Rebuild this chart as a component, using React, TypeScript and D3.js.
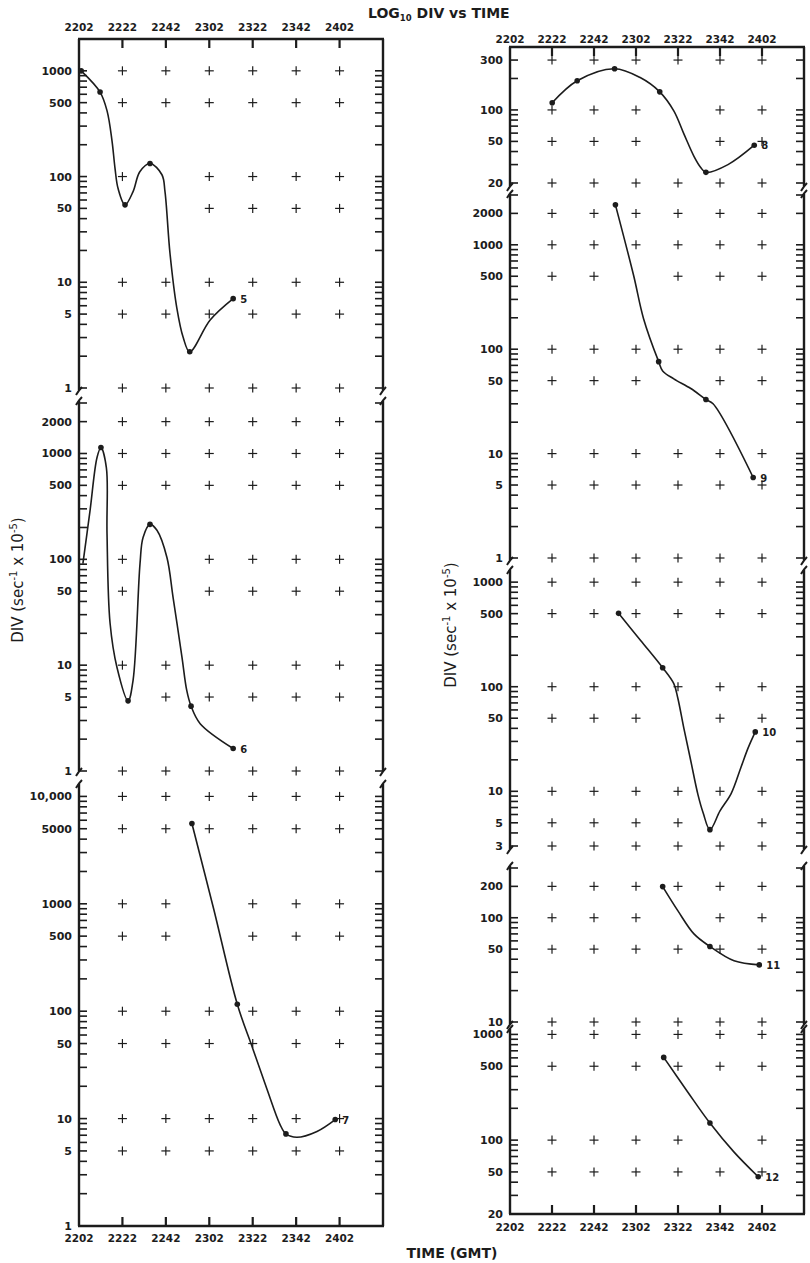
import React from "react";
import * as d3 from "d3";

type P = [number, number];

// time axis (minutes after 2202 GMT)
const timeTicks = [0, 20, 40, 60, 80, 100, 120];
const timeLabels = ["2202", "2222", "2242", "2302", "2322", "2342", "2402"];
const crossTimes = [20, 40, 60, 80, 100, 120];

// ---- panel 5 ----
const p5Ticks = [1000, 500, 100, 50, 10, 5, 1];
const p5Rows = [1000, 500, 100, 50, 10, 5, 1];
const p5Missing: P[] = [[40, 100], [20, 50], [40, 50]];
const p5Trace: P[] = [[1, 1000], [9.7, 630], [12.9, 420], [15.2, 218], [16.6, 119], [18, 77], [21.2, 54], [24.9, 72], [28, 111], [32.7, 133], [38.2, 104], [39.6, 72], [41.9, 18.8], [45, 5.8], [48, 3.0], [51, 2.2], [60.4, 4.4], [71, 7]];
const p5Dots: P[] = [[1, 1000], [9.7, 630], [21.2, 54], [32.7, 133], [51, 2.2], [71, 7]];

// ---- panel 6 ----
const p6Ticks = [2000, 1000, 500, 100, 50, 10, 5, 1];
const p6Rows = [2000, 1000, 500, 100, 50, 10, 5, 1];
const p6Missing: P[] = [[40, 100], [40, 50], [20, 5]];
const p6Trace: P[] = [[1.8, 91], [5.1, 290], [8.3, 917], [10.1, 1140], [12.6, 737], [12.9, 176], [14.3, 25], [17.5, 9.5], [22.6, 4.6], [24.9, 7.2], [28.1, 91], [29.5, 161], [32.7, 214], [35.9, 188], [40.5, 104], [43.3, 44], [47.4, 12], [49.6, 5.8], [51.6, 4.1], [55.8, 2.8], [71, 1.63]];
const p6Dots: P[] = [[10.1, 1140], [22.6, 4.6], [32.7, 214], [51.6, 4.1], [71, 1.63]];

// ---- panel 7 ----
const p7Ticks = [10000, 5000, 1000, 500, 100, 50, 10, 5, 1];
const p7Rows = [10000, 5000, 1000, 500, 100, 50, 10, 5];
const p7Missing: P[] = [[60, 1000], [60, 500]];
const p7Trace: P[] = [[52, 5600], [62, 900], [72.9, 116], [80, 45], [86.5, 19], [92.6, 8.8], [95.3, 7.2], [100.3, 6.7], [109.6, 7.6], [118, 9.8]];
const p7Dots: P[] = [[52, 5600], [72.9, 116], [95.3, 7.2], [118, 9.8]];

// ---- panel 8 ----
const p8Ticks = [300, 100, 50, 20];
const p8Rows = [300, 100, 50, 20];
const p8Missing: P[] = [[80, 100], [80, 50]];
const p8Trace: P[] = [[20.1, 117], [32, 190], [49.8, 248], [62.2, 203], [71.3, 149], [78, 98], [82.8, 59], [87.6, 36], [90.9, 28], [93.3, 25.3], [103.8, 30], [116.3, 46]];
const p8Dots: P[] = [[20.1, 117], [32, 190], [49.8, 248], [71.3, 149], [93.3, 25.3], [116.3, 46]];

// ---- panel 9 ----
const p9Ticks = [2000, 1000, 500, 100, 50, 10, 5, 1];
const p9Rows = [2000, 1000, 500, 100, 50, 10, 5, 1];
const p9Missing: P[] = [[60, 500], [80, 50]];
const p9Trace: P[] = [[50.2, 2415], [58.9, 505], [63.6, 196], [70.8, 76], [72.7, 62], [78, 52], [86.1, 42], [93.3, 33], [96.7, 30], [115.8, 5.9]];
const p9Dots: P[] = [[50.2, 2415], [70.8, 76], [93.3, 33], [115.8, 5.9]];

// ---- panel 10 ----
const p10Ticks = [1000, 500, 100, 50, 10, 5, 3];
const p10Rows = [1000, 500, 100, 50, 10, 5, 3];
const p10Missing: P[] = [[80, 50], [100, 5]];
const p10Trace: P[] = [[51.7, 503], [62.2, 277], [72.7, 152], [78, 107], [79.9, 78], [82.8, 40], [86.1, 19.5], [89.5, 9.3], [92, 6.2], [95.2, 4.3], [100, 6.5], [105.3, 9.5], [110, 17], [113.4, 26], [116.8, 37]];
const p10Dots: P[] = [[51.7, 503], [72.7, 152], [95.2, 4.3], [116.8, 37]];

// ---- panel 11 ----
const p11Ticks = [200, 100, 50, 10];
const p11Rows = [200, 100, 50, 10];
const p11Missing: P[] = [[80, 100]];
const p11Trace: P[] = [[72.7, 199], [79.9, 117], [87.6, 70], [95.2, 53], [106.7, 38.6], [118.7, 35.3]];
const p11Dots: P[] = [[72.7, 199], [95.2, 53], [118.7, 35.3]];

// ---- panel 12 ----
const p12Ticks = [1000, 500, 100, 50, 20];
const p12Rows = [1000, 500, 100, 50];
const p12Missing: P[] = [[100, 100]];
const p12Trace: P[] = [[73.2, 606], [84.7, 284], [95.2, 145], [106.7, 77], [118.2, 45]];
const p12Dots: P[] = [[73.2, 606], [95.2, 145], [118.2, 45]];

// ---------------- layout ----------------
const LEFT = { x0: 79, x1: 383, top: 39, bottom: 1226, topLab: 31, botLab: 1242 };
const RIGHT = { x0: 510, x1: 804, top: 47, bottom: 1214, topLab: 43, botLab: 1231 };

const panels = [
  { name: "5", col: LEFT, dom: [1, 2000], rng: [388, 39], seg: [39, 390], ticks: p5Ticks, rows: p5Rows, missing: p5Missing, trace: p5Trace, dots: p5Dots, first: true, lastP: false },
  { name: "6", col: LEFT, dom: [1, 3000], rng: [771, 403], seg: [401, 771], ticks: p6Ticks, rows: p6Rows, missing: p6Missing, trace: p6Trace, dots: p6Dots, first: false, lastP: false },
  { name: "7", col: LEFT, dom: [1, 12500], rng: [1226, 786], seg: [784, 1226], ticks: p7Ticks, rows: p7Rows, missing: p7Missing, trace: p7Trace, dots: p7Dots, first: false, lastP: true },
  { name: "8", col: RIGHT, dom: [20, 400], rng: [183, 47], seg: [47, 186], ticks: p8Ticks, rows: p8Rows, missing: p8Missing, trace: p8Trace, dots: p8Dots, first: true, lastP: false },
  { name: "9", col: RIGHT, dom: [1, 3000], rng: [558, 195], seg: [194, 560], ticks: p9Ticks, rows: p9Rows, missing: p9Missing, trace: p9Trace, dots: p9Dots, first: false, lastP: false },
  { name: "10", col: RIGHT, dom: [3, 1250], rng: [846, 572], seg: [570, 849], ticks: p10Ticks, rows: p10Rows, missing: p10Missing, trace: p10Trace, dots: p10Dots, first: false, lastP: false },
  { name: "11", col: RIGHT, dom: [10, 300], rng: [1022, 868], seg: [866, 1024], ticks: p11Ticks, rows: p11Rows, missing: p11Missing, trace: p11Trace, dots: p11Dots, first: false, lastP: false },
  { name: "12", col: RIGHT, dom: [20, 1150], rng: [1214, 1028], seg: [1029, 1214], ticks: p12Ticks, rows: p12Rows, missing: p12Missing, trace: p12Trace, dots: p12Dots, first: false, lastP: true },
];

const INK = "#1c1c1c";
const FONT = "'DejaVu Sans', sans-serif";

function logTicks(lo: number, hi: number) {
  const out: number[] = [];
  for (let n = Math.floor(Math.log10(lo)); n <= Math.ceil(Math.log10(hi)); n++) {
    for (let k = 1; k <= 9; k++) {
      const v = k * Math.pow(10, n);
      if (v >= lo * 0.999 && v <= hi * 1.001) out.push(v);
    }
  }
  return out;
}

const fmt = (v: number) => (v >= 10000 ? d3.format(",")(v) : String(v));

function Cross({ x, y }: { x: number; y: number }) {
  return (
    <g stroke={INK} strokeWidth={1.2}>
      <line x1={x - 4.5} x2={x + 4.5} y1={y} y2={y} />
      <line x1={x} x2={x} y1={y - 4.5} y2={y + 4.5} />
    </g>
  );
}

function Panel({ p }: any) {
  const col = p.col;
  const xs = d3.scaleLinear().domain([0, 140]).range([col.x0, col.x1]);
  const ys = d3.scaleLog().domain(p.dom).range(p.rng);
  const line = d3
    .line<P>()
    .x((d) => xs(d[0]))
    .y((d) => ys(d[1]))
    .curve(d3.curveCatmullRom.alpha(0.5));
  const minor = logTicks(p.dom[0], p.dom[1]);
  const isMissing = (t: number, v: number) => p.missing.some((m: P) => m[0] === t && m[1] === v);
  const end = p.dots[p.dots.length - 1];
  return (
    <g>
      <line x1={col.x0} x2={col.x0} y1={p.seg[0]} y2={p.seg[1]} stroke={INK} strokeWidth={2.4} />
      <line x1={col.x1} x2={col.x1} y1={p.seg[0]} y2={p.seg[1]} stroke={INK} strokeWidth={2.4} />
      {!p.first && [col.x0, col.x1].map((x: number, i: number) => (
        <path key={"bt" + i} d={`M${x - 3},${p.seg[0] + 4} Q${x},${p.seg[0] - 1} ${x + 3},${p.seg[0] - 4}`} fill="none" stroke={INK} strokeWidth={2} />
      ))}
      {!p.lastP && [col.x0, col.x1].map((x: number, i: number) => (
        <path key={"bb" + i} d={`M${x - 3},${p.seg[1] + 5} Q${x},${p.seg[1]} ${x + 3},${p.seg[1] - 3}`} fill="none" stroke={INK} strokeWidth={2} />
      ))}
      {minor.map((v, i) => (
        <g key={"m" + i} stroke={INK} strokeWidth={1.6}>
          <line x1={col.x0} x2={col.x0 + 8} y1={ys(v)} y2={ys(v)} />
          <line x1={col.x1 - 8} x2={col.x1} y1={ys(v)} y2={ys(v)} />
        </g>
      ))}
      {p.ticks.map((v: number, i: number) => (
        <text key={"l" + i} x={col.x0 - 7} y={ys(v) + 4} textAnchor="end" fontSize={11} fontWeight={600} fontFamily={FONT} fill={INK}>
          {fmt(v)}
        </text>
      ))}
      {p.rows.map((v: number) =>
        crossTimes.filter((t) => !isMissing(t, v)).map((t) => <Cross key={`c${v}-${t}`} x={xs(t)} y={ys(v)} />)
      )}
      <path d={line(p.trace) || ""} fill="none" stroke={INK} strokeWidth={1.6} />
      {p.dots.map((d: P, i: number) => (
        <circle key={"d" + i} cx={xs(d[0])} cy={ys(d[1])} r={2.8} fill={INK} />
      ))}
      <text x={xs(end[0]) + 7} y={ys(end[1]) + 4} fontSize={10} fontFamily={FONT} fontWeight={600} fill={INK}>
        {p.name}
      </text>
    </g>
  );
}

function TimeAxis({ col, y, labY, dir }: any) {
  const xs = d3.scaleLinear().domain([0, 140]).range([col.x0, col.x1]);
  return (
    <g>
      <line x1={col.x0 - 1} x2={col.x1 + 1} y1={y} y2={y} stroke={INK} strokeWidth={2.4} />
      {timeTicks.slice(1).map((t) => (
        <line key={t} x1={xs(t)} x2={xs(t)} y1={y} y2={y + dir * 9} stroke={INK} strokeWidth={2.2} />
      ))}
      {timeTicks.map((t, i) => (
        <text key={"t" + t} x={xs(t)} y={labY} textAnchor="middle" fontSize={10.5} fontWeight={600} fontFamily={FONT} fill={INK}>
          {timeLabels[i]}
        </text>
      ))}
    </g>
  );
}

function YTitle({ x, y }: { x: number; y: number }) {
  return (
    <text transform={`translate(${x},${y}) rotate(-90)`} textAnchor="middle" fontSize={15} fontFamily={FONT} fill={INK}>
      DIV (sec<tspan fontSize={10} dy={-6}>-1</tspan>
      <tspan dy={6}> x 10</tspan>
      <tspan fontSize={10} dy={-6}>-5</tspan>
      <tspan dy={6}>)</tspan>
    </text>
  );
}

export default function App() {
  return (
    <svg width={810} height={1263} style={{ position: "absolute", left: 0, top: 0, background: "#fff" }}>
      <rect width={810} height={1263} fill="#fff" />
      <text x={368} y={18} fontSize={14} fontWeight={600} fontFamily={FONT} fill={INK}>
        LOG<tspan fontSize={8.5} dy={3}>10</tspan>
        <tspan dy={-3}> DIV  vs TIME</tspan>
      </text>
      <TimeAxis col={LEFT} y={LEFT.top} labY={LEFT.topLab} dir={1} />
      <TimeAxis col={LEFT} y={LEFT.bottom} labY={LEFT.botLab} dir={-1} />
      <TimeAxis col={RIGHT} y={RIGHT.top} labY={RIGHT.topLab} dir={1} />
      <TimeAxis col={RIGHT} y={RIGHT.bottom} labY={RIGHT.botLab} dir={-1} />
      {panels.map((p) => (
        <Panel key={p.name} p={p} />
      ))}
      <YTitle x={23} y={580} />
      <YTitle x={456} y={625} />
      <text x={452} y={1258} textAnchor="middle" fontSize={14} fontWeight={600} fontFamily={FONT} fill={INK}>
        TIME (GMT)
      </text>
    </svg>
  );
}
